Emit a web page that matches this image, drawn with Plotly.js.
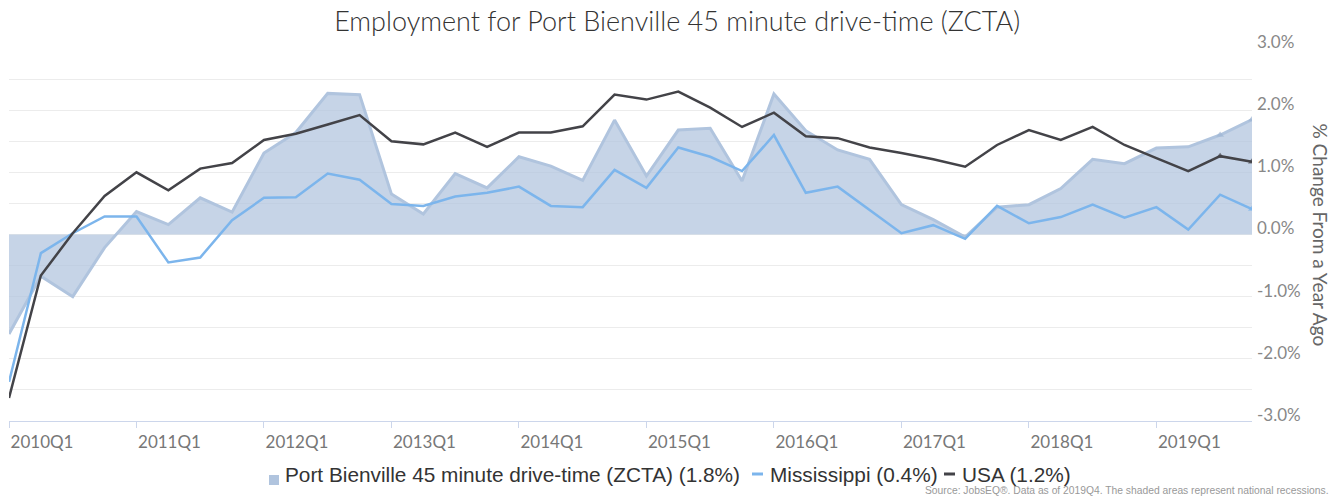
<!DOCTYPE html>
<html>
<head>
<meta charset="utf-8">
<script src="https://cdn.plot.ly/plotly-3.0.1.min.js"></script>
<style>html,body{margin:0;padding:0;background:#fff;}#chart{width:1333px;height:497px;}</style>
</head>
<body>
<div id="chart"></div>
<script>
const quarters = [
  "2010Q1","2010Q2","2010Q3","2010Q4","2011Q1","2011Q2","2011Q3","2011Q4",
  "2012Q1","2012Q2","2012Q3","2012Q4","2013Q1","2013Q2","2013Q3","2013Q4",
  "2014Q1","2014Q2","2014Q3","2014Q4","2015Q1","2015Q2","2015Q3","2015Q4",
  "2016Q1","2016Q2","2016Q3","2016Q4","2017Q1","2017Q2","2017Q3","2017Q4",
  "2018Q1","2018Q2","2018Q3","2018Q4","2019Q1","2019Q2","2019Q3","2019Q4"
];
const portBienville = [
  -1.60,-0.67,-1.00,-0.21, 0.37, 0.16, 0.59, 0.36,
   1.31, 1.64, 2.27, 2.25, 0.65, 0.33, 0.98, 0.75,
   1.25, 1.10, 0.87, 1.84, 0.94, 1.68, 1.71, 0.86,
   2.26, 1.67, 1.36, 1.21, 0.48, 0.24,-0.04, 0.44,
   0.48, 0.74, 1.21, 1.14, 1.39, 1.41, 1.60, 1.85
];
const mississippi = [
  -2.37,-0.30, 0.02, 0.29, 0.29,-0.45,-0.37, 0.23,
   0.59, 0.60, 0.98, 0.88, 0.49, 0.46, 0.61, 0.67,
   0.77, 0.46, 0.44, 1.04, 0.75, 1.40, 1.25, 1.02,
   1.60, 0.67, 0.77, 0.39, 0.02, 0.15,-0.07, 0.46,
   0.18, 0.28, 0.48, 0.27, 0.44, 0.08, 0.64, 0.41
];
const usa = [
  -2.63,-0.66, 0.02, 0.62, 1.00, 0.71, 1.06, 1.15,
   1.52, 1.62, 1.77, 1.92, 1.50, 1.45, 1.64, 1.41,
   1.64, 1.64, 1.74, 2.25, 2.17, 2.30, 2.04, 1.73,
   1.96, 1.58, 1.55, 1.40, 1.31, 1.21, 1.09, 1.44,
   1.68, 1.52, 1.73, 1.44, 1.23, 1.02, 1.26, 1.17
];
const seriesNames = [
  "Port Bienville 45 minute drive-time (ZCTA) (1.8%)",
  "Mississippi (0.4%)",
  "USA (1.2%)"
];
const seriesColors = ["rgb(176,196,222)", "#7cb5ec", "#434348"];
const xTickVals = ["2010Q1","2011Q1","2012Q1","2013Q1","2014Q1","2015Q1","2016Q1","2017Q1","2018Q1","2019Q1"];
const yTickVals = [-3,-2.5,-2,-1.5,-1,-0.5,0,0.5,1,1.5,2,2.5,3];
const yTickText = ["-3.0%","","-2.0%","","-1.0%","","0.0%","","1.0%","","2.0%","","3.0%"];

const W = 1333, H = 497;
const M = {l: 9, r: 81, t: 48, b: 76};
const PW = W - M.l - M.r, PH = H - M.t - M.b;
const px = x => (x - M.l) / PW;          // page px -> paper x
const py = y => (H - M.b - y) / PH;      // page px -> paper y

function lastMarkers(n, size){ return quarters.map((q,i)=> i>=quarters.length-n ? size : 0); }

const traces = [
  {
    x: quarters, y: portBienville, name: seriesNames[0], type: "scatter", mode: "lines+markers",
    fill: "tozeroy", fillcolor: "rgba(176,196,222,0.72)",
    line: {color: seriesColors[0], width: 3},
    marker: {symbol: "triangle-up", size: lastMarkers(2,7), color: "rgb(160,182,212)", line: {width: 0}},
    hoverinfo: "skip", showlegend: false
  },
  {
    x: quarters, y: mississippi, name: seriesNames[1], type: "scatter", mode: "lines+markers",
    line: {color: seriesColors[1], width: 2.5},
    marker: {symbol: "triangle-up", size: lastMarkers(1,7), color: seriesColors[1], line: {width: 0}},
    hoverinfo: "skip", showlegend: false
  },
  {
    x: quarters, y: usa, name: seriesNames[2], type: "scatter", mode: "lines+markers",
    line: {color: seriesColors[2], width: 2.5},
    marker: {symbol: "triangle-up", size: lastMarkers(2,7), color: seriesColors[2], line: {width: 0}},
    hoverinfo: "skip", showlegend: false
  }
];

// custom legend (text + symbols) placed like the reference
const legendFont = {family: "'Liberation Sans', Arial, sans-serif", size: 20.8, color: "#333"};
const legendTextX = [283, 768, 960];
const legendY = 474;
const annotations = seriesNames.map((n, i) => ({
  text: n, xref: "paper", yref: "paper", x: px(legendTextX[i]), y: py(legendY),
  xanchor: "left", yanchor: "middle", showarrow: false, font: legendFont
}));
annotations.push({
  text: "% Change From a Year Ago", xref: "paper", yref: "paper",
  x: px(1320), y: 0.5, xanchor: "center", yanchor: "middle",
  textangle: 90, showarrow: false,
  font: {family: "Lato, sans-serif", size: 19, color: "#666"}
});
annotations.push({
  text: "Source: JobsEQ®. Data as of 2019Q4. The shaded areas represent national recessions.",
  xref: "paper", yref: "paper", x: px(1331), y: py(491), xanchor: "right", yanchor: "middle",
  showarrow: false,
  font: {family: "'Liberation Sans', sans-serif", size: 10.3, color: "#999"}
});

const shapes = [
  {type: "rect", xref: "paper", yref: "paper", x0: px(269), x1: px(279), y0: py(485), y1: py(475),
   fillcolor: seriesColors[0], line: {width: 0}},
  {type: "line", xref: "paper", yref: "paper", x0: px(752), x1: px(763), y0: py(474), y1: py(474),
   line: {color: seriesColors[1], width: 3}},
  {type: "line", xref: "paper", yref: "paper", x0: px(944), x1: px(955), y0: py(474), y1: py(474),
   line: {color: seriesColors[2], width: 3}}
];

const layout = {
  width: W, height: H,
  margin: {l: M.l, r: M.r, t: M.t, b: M.b, pad: 0},
  paper_bgcolor: "#ffffff", plot_bgcolor: "#ffffff",
  font: {family: "Lato, 'Open Sans', sans-serif", color: "#666"},
  title: {
    text: "Employment for Port Bienville 45 minute drive-time (ZCTA)",
    x: 0.508, xref: "container", xanchor: "center",
    y: 1 - 22 / H, yref: "container", yanchor: "middle",
    font: {family: "Lato, sans-serif", size: 27, color: "#333", weight: 300}
  },
  showlegend: false,
  xaxis: {
    type: "category", range: [0, quarters.length - 1],
    tickmode: "array", tickvals: xTickVals, ticktext: xTickVals,
    ticks: "outside", ticklen: 6, tickcolor: "#ccd6eb", tickwidth: 1,
    showline: true, linecolor: "#ccd6eb", linewidth: 1,
    showgrid: false, zeroline: false,
    ticklabelshift: 33,
    tickfont: {family: "Lato, sans-serif", size: 17, color: "#777"},
    fixedrange: true
  },
  yaxis: {
    side: "right", range: [-3, 3],
    tickmode: "array", tickvals: yTickVals, ticktext: yTickText,
    ticks: "", showline: false, zeroline: false,
    showgrid: true, gridcolor: "#ececec", gridwidth: 1,
    ticklabelshift: -6, ticklabelstandoff: 4,
    tickfont: {family: "Lato, sans-serif", size: 17, color: "#888"},
    fixedrange: true
  },
  annotations: annotations,
  shapes: shapes
};

Plotly.newPlot("chart", traces, layout, {staticPlot: true, displayModeBar: false});
</script>
</body>
</html>
